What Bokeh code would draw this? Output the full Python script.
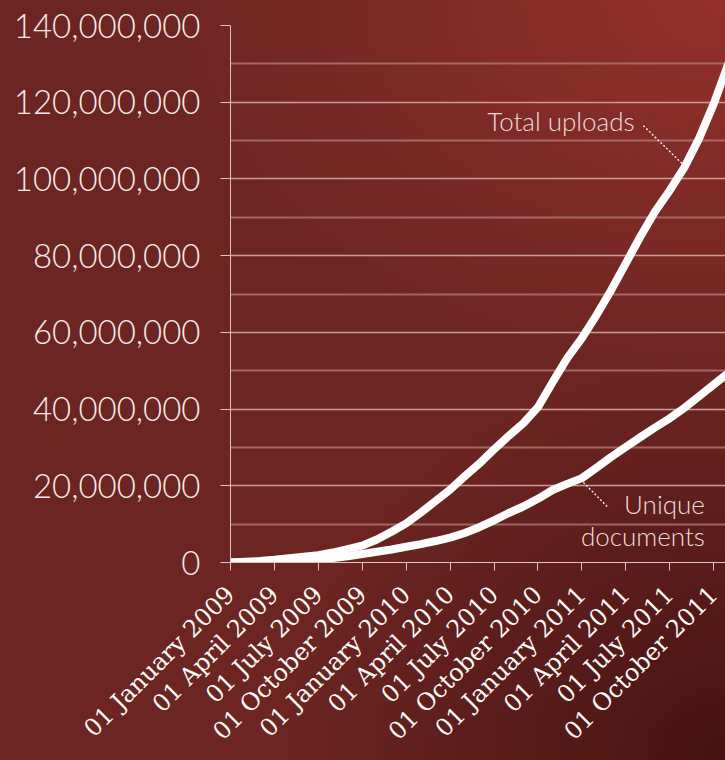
import numpy as np
from bokeh.plotting import figure
from bokeh.models import (FixedTicker, SingleIntervalTicker, NumeralTickFormatter,
                          Label, Range1d)
from bokeh.embed import file_html
from bokeh.resources import INLINE

# ---- data (months since January 2009, values in documents) ----
months = list(range(35))
total_uploads = [0.0, 0.2, 0.4, 0.7, 1.1, 1.5, 1.9, 2.6, 3.5, 4.4, 6.0, 8.0,
                 10.2, 13.0, 16.0, 19.0, 22.5, 25.8, 29.5, 33.0, 36.3, 40.5, 47.0, 53.3,
                 58.5, 64.5, 71.0, 78.0, 85.0, 91.5, 97.0, 103.0, 110.5, 119.5, 130.0]
unique_documents = [0.0, 0.05, 0.1, 0.2, 0.35, 0.5, 0.9, 1.2, 1.6, 2.2, 2.8, 3.4,
                    4.1, 4.8, 5.6, 6.5, 7.7, 9.2, 11.0, 12.9, 14.6, 16.6, 18.9, 20.5,
                    22.0, 24.7, 27.5, 30.1, 32.7, 35.2, 37.6, 40.3, 43.3, 46.4, 49.4]
total_uploads = [v * 1e6 for v in total_uploads]
unique_documents = [v * 1e6 for v in unique_documents]

tick_months = [0, 3, 6, 9, 12, 15, 18, 21, 24, 27, 30, 33]
tick_labels = ["01 January 2009", "01 April 2009", "01 July 2009", "01 October 2009",
               "01 January 2010", "01 April 2010", "01 July 2010", "01 October 2010",
               "01 January 2011", "01 April 2011", "01 July 2011", "01 October 2011"]

# annotation placement (months, values)
total_label_pos = (27.6, 115.0e6)
total_leader = ([28.2], [113.9e6], [30.9], [103.8e6])
unique_label_pos = [(32.4, 15.2e6, "Unique"), (32.4, 6.8e6, "documents")]
unique_leader = ([24.1], [20.9e6], [25.8], [14.3e6])

W, H = 725, 760

p = figure(width=W, height=H, output_backend="svg", toolbar_location=None,
           x_range=Range1d(0, 33.81), y_range=Range1d(0, 140e6),
           min_border_left=230, min_border_right=0, min_border_top=25,
           min_border_bottom=198)
p.outline_line_color = None
p.background_fill_alpha = 0
p.border_fill_alpha = 0
p.styles = {
    "background": (
        "radial-gradient(ellipse 580px 390px at 100% 0%, rgba(146,48,45,1) 0%, rgba(146,48,45,0) 100%),"
        "radial-gradient(ellipse 440px 400px at 100% 100%, rgba(70,19,18,1) 0%, rgba(70,19,18,0) 100%),"
        "#6c2521"
    )
}

# grid
p.xgrid.visible = False
p.ygrid.ticker = SingleIntervalTicker(interval=20e6, num_minor_ticks=2)
p.ygrid.grid_line_color = "#d9aaa5"
p.ygrid.grid_line_alpha = 0.75
p.ygrid.grid_line_width = 1
p.ygrid.minor_grid_line_color = "#b9837e"
p.ygrid.minor_grid_line_alpha = 0.7
p.ygrid.minor_grid_line_width = 2

# y axis
p.yaxis.ticker = SingleIntervalTicker(interval=20e6, num_minor_ticks=2)
p.yaxis.formatter = NumeralTickFormatter(format="0,0")
p.yaxis.axis_line_color = "#e2c3bf"
p.yaxis.major_tick_line_color = "#e2c3bf"
p.yaxis.major_tick_out = 10
p.yaxis.major_tick_in = 0
p.yaxis.minor_tick_out = 0
p.yaxis.minor_tick_in = 0
p.yaxis.major_label_standoff = 20
p.yaxis.major_label_text_font = "Lato Light"
p.yaxis.major_label_text_font_size = "33px"
p.yaxis.major_label_text_color = "#f6ecea"

# x axis
p.xaxis.ticker = FixedTicker(ticks=tick_months)
p.xaxis.major_label_overrides = dict(zip(tick_months, tick_labels))
p.xaxis.major_label_orientation = np.pi / 4
p.xaxis.axis_line_color = "#e2c3bf"
p.xaxis.major_tick_line_color = "#e2c3bf"
p.xaxis.major_tick_out = 8
p.xaxis.major_tick_in = 0
p.xaxis.minor_tick_out = 0
p.xaxis.minor_tick_in = 0
p.xaxis.major_label_standoff = 20
p.xaxis.major_label_text_font = "DejaVu Serif"
p.xaxis.major_label_text_font_size = "24px"
p.xaxis.major_label_text_color = "#ffffff"

# series
p.line(months, unique_documents, line_color="white", line_width=8,
       line_cap="round", line_join="round")
p.line(months, total_uploads, line_color="white", line_width=8,
       line_cap="round", line_join="round")

# annotations
ann_font = "Lato Light"
p.add_layout(Label(x=total_label_pos[0], y=total_label_pos[1], text="Total uploads",
                   text_align="right", text_baseline="middle", text_font=ann_font,
                   text_font_size="26px", text_color="#eedcda"))
for (lx, ly, txt) in unique_label_pos:
    p.add_layout(Label(x=lx, y=ly, text=txt, text_align="right", text_baseline="middle",
                       text_font=ann_font, text_font_size="26px", text_color="#eedcda"))
for (x0, y0, x1, y1) in (total_leader, unique_leader):
    p.segment(x0=x0, y0=y0, x1=x1, y1=y1, line_color="white", line_width=1.3,
              line_dash="2 2", line_alpha=1.0)

open("out.html", "w").write(file_html(p, INLINE))
